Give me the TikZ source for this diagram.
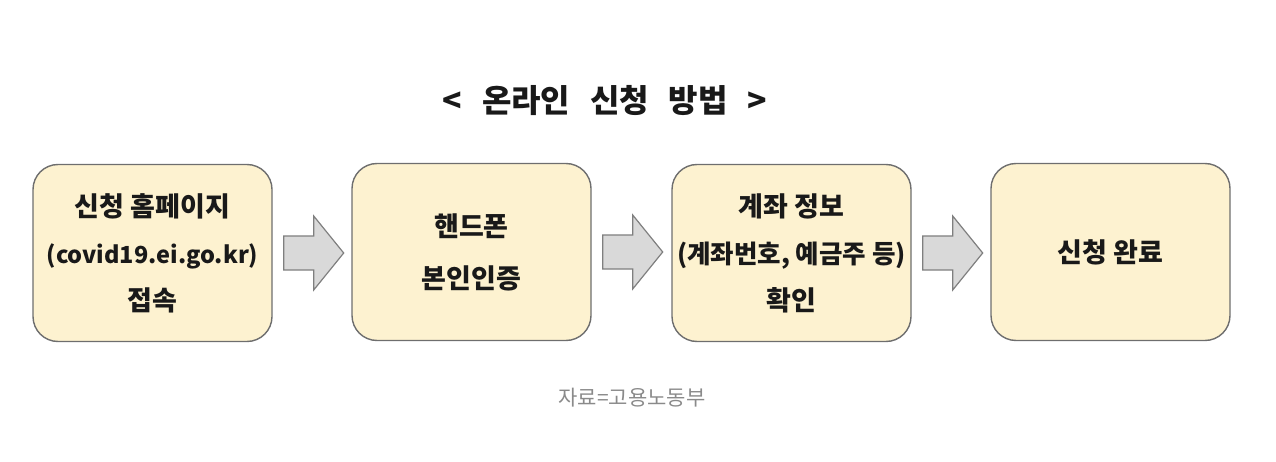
\documentclass[tikz,border=0pt]{standalone}
\usepackage{fontspec}
\newfontfamily\kr{Noto Sans CJK KR}
\usetikzlibrary{calc}
\definecolor{boxfill}{HTML}{FDF2D0}
\definecolor{boxline}{HTML}{6E6E6E}
\definecolor{arrfill}{HTML}{D9D9D9}
\definecolor{arrline}{HTML}{7F7F7F}
\definecolor{captiongray}{HTML}{8A8A8A}
\newcommand{\lat}[1]{{\fontsize{23.5}{47}\selectfont #1}}
\newcommand{\gap}{\hspace{0.62em}}
\tikzset{
  stepbox/.style={draw=boxline, line width=1.4pt, fill=boxfill, rounded corners=25pt,
    minimum width=239pt, minimum height=177pt, inner sep=0pt, align=center,
    font={\kr\bfseries\fontsize{27}{47}\selectfont}, text=black!90},
  blockarrow/.style={draw=arrline, line width=1.2pt, fill=arrfill, line join=miter},
  titletext/.style={font={\kr\bfseries\fontsize{32}{36}\selectfont}, text=black!90},
  captiontext/.style={font={\kr\fontsize{21}{24}\selectfont}, text=captiongray}
}
\begin{document}
\begin{tikzpicture}[x=1pt,y=-1pt]
\useasboundingbox (0,0) rectangle (1276,462);
\node[titletext] (title) at (605,101) {<\gap 온라인\gap 신청\gap 방법\gap >};
\node[stepbox] (b1) at (152.5,253) {신청 홈페이지\\\lat{(covid19.ei.go.kr)}\\접속};
\node[stepbox, font={\kr\bfseries\fontsize{27}{52}\selectfont}] (b2) at (471.5,252) {핸드폰\\본인인증};
\node[stepbox] (b3) at (791.5,253) {계좌 정보\\{\fontsize{25.5}{47}\selectfont (계좌번호, 예금주 등)}\\확인};
\node[stepbox] (b4) at (1110.5,252) {신청 완료};
\foreach \a/\b in {b1/b2,b2/b3,b3/b4}{
  \draw[blockarrow] ($(\a.east)+(11,0)$) -- ++(0,-17) -- ++(30,0) -- ++(0,-20)
    -- ++(30,37) -- ++(-30,37) -- ++(0,-20) -- ++(-30,0) -- cycle;
}
\node[captiontext] (cap) at (632,398) {자료=고용노동부};
\end{tikzpicture}
\end{document}
